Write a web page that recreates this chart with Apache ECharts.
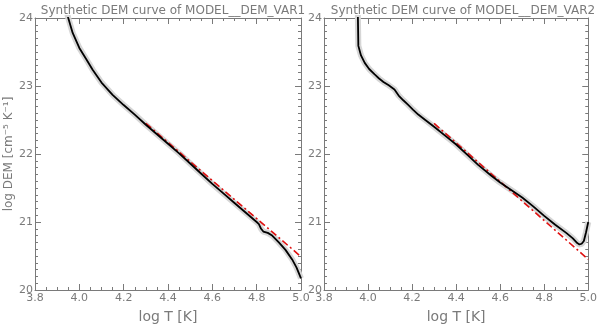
<!DOCTYPE html>
<html><head><meta charset="utf-8">
<script src="https://cdn.jsdelivr.net/npm/echarts@6/dist/echarts.min.js"></script>
<style>html,body{margin:0;padding:0;background:#fff}#c{width:600px;height:329px}</style>
</head><body><div id="c"></div>
<script>
const titles = ["Synthetic DEM curve of MODEL__DEM_VAR1", "Synthetic DEM curve of MODEL__DEM_VAR2"];
const xName = "log T [K]";
const yName = "log DEM [cm\u207B\u2075 K\u207B\u00B9]";

const logT1 = [3.94, 3.95, 3.97, 4.00, 4.03, 4.06, 4.10, 4.15, 4.20, 4.25, 4.30, 4.35, 4.40, 4.45, 4.50, 4.55, 4.60, 4.65, 4.70, 4.75, 4.80, 4.81, 4.82, 4.83, 4.85, 4.87, 4.90, 4.93, 4.96, 4.98, 5.00];
const dem1  = [24.15, 24.0, 23.78, 23.56, 23.40, 23.24, 23.05, 22.87, 22.72, 22.58, 22.43, 22.29, 22.15, 22.01, 21.86, 21.71, 21.56, 21.42, 21.28, 21.14, 21.00, 20.97, 20.90, 20.86, 20.84, 20.80, 20.70, 20.59, 20.45, 20.33, 20.17];

const logT2 = [3.953, 3.954, 3.956, 3.968, 3.985, 4.005, 4.03, 4.05, 4.07, 4.094, 4.12, 4.139, 4.16, 4.18, 4.205, 4.228, 4.26, 4.30, 4.35, 4.40, 4.45, 4.50, 4.56, 4.60, 4.65, 4.70, 4.75, 4.80, 4.85, 4.90, 4.93, 4.95, 4.96, 4.97, 4.98, 4.99, 5.00];
const dem2  = [24.4, 24.0, 23.59, 23.45, 23.34, 23.25, 23.17, 23.11, 23.06, 23.01, 22.95, 22.86, 22.79, 22.73, 22.65, 22.58, 22.50, 22.40, 22.27, 22.14, 21.99, 21.84, 21.68, 21.58, 21.47, 21.36, 21.23, 21.09, 20.96, 20.84, 20.76, 20.69, 20.67, 20.68, 20.72, 20.85, 21.00];

const fitT1 = [4.3, 5.0];
const fitD1 = [22.45, 20.49];
const fitT2 = [4.3, 5.0];
const fitD2 = [22.45, 20.45];

const xTicks = [3.8, 4.0, 4.2, 4.4, 4.6, 4.8, 5.0];
const yTicks = [20, 21, 22, 23, 24];

const pairs = (xs, ys) => xs.map((x, i) => [x, ys[i]]);
const grey = '#7a7a7a';
const font = 'DejaVu Sans';

function xAx(gi, pos, labels) {
  return {
    type: 'value', gridIndex: gi, position: pos,
    min: xTicks[0], max: xTicks[xTicks.length - 1], interval: 0.2,
    axisLine: { show: true, onZero: false, lineStyle: { color: grey, width: 1 } },
    axisTick: { show: true, inside: true, length: 6, lineStyle: { color: grey } },
    minorTick: { show: true, splitNumber: 4, length: 3, lineStyle: { color: grey } },
    splitLine: { show: false },
    axisLabel: { show: labels, color: grey, fontFamily: font, fontSize: 11, margin: 3,
      showMinLabel: true, showMaxLabel: true, formatter: v => v.toFixed(1) },
    name: labels ? xName : '', nameLocation: 'middle', nameGap: 20,
    nameTextStyle: { color: grey, fontFamily: font, fontSize: 14 }
  };
}
function yAx(gi, pos, labels, withName) {
  return {
    type: 'value', gridIndex: gi, position: pos,
    min: yTicks[0], max: yTicks[yTicks.length - 1], interval: 1,
    axisLine: { show: true, onZero: false, lineStyle: { color: grey, width: 1 } },
    axisTick: { show: true, inside: true, length: 6, lineStyle: { color: grey } },
    minorTick: { show: true, splitNumber: 10, length: 3, lineStyle: { color: grey } },
    splitLine: { show: false },
    axisLabel: { show: labels, color: grey, fontFamily: font, fontSize: 11, margin: 2 },
    name: withName ? yName : '', nameLocation: 'middle', nameGap: 17, nameRotate: 90,
    nameTextStyle: { color: grey, fontFamily: font, fontSize: 12 }
  };
}
function panel(i, xs, ys, fx, fy) {
  return [
    { type: 'line', xAxisIndex: 2 * i, yAxisIndex: 2 * i, data: pairs(xs, ys), showSymbol: false, symbol: 'none',
      lineStyle: { color: '#d6d6d6', width: 6, join: 'round' }, z: 1, animation: false, silent: true },
    { type: 'line', xAxisIndex: 2 * i, yAxisIndex: 2 * i, data: pairs(xs, ys), showSymbol: false, symbol: 'none',
      lineStyle: { color: '#000', width: 1.8 }, z: 3, animation: false },
    { type: 'line', xAxisIndex: 2 * i, yAxisIndex: 2 * i, data: pairs(fx, fy), showSymbol: false, symbol: 'none',
      lineStyle: { color: '#e01010', width: 1.6, type: [7, 3, 2, 3] }, z: 2, animation: false }
  ];
}

const chart = echarts.init(document.getElementById('c'), null, { renderer: 'canvas' });
chart.setOption({
  backgroundColor: '#fff',
  animation: false,
  title: [
    { text: titles[0], left: 168, top: 0, textAlign: 'center', textStyle: { color: grey, fontFamily: font, fontSize: 12, fontWeight: 'normal' } },
    { text: titles[1], left: 458, top: 0, textAlign: 'center', textStyle: { color: grey, fontFamily: font, fontSize: 12, fontWeight: 'normal' } }
  ],
  grid: [
    { left: 35, top: 18, width: 266, height: 279 },
    { left: 324, top: 18, width: 269, height: 279 }
  ],
  xAxis: [xAx(0, 'bottom', true), xAx(0, 'top', false), xAx(1, 'bottom', true), xAx(1, 'top', false)],
  yAxis: [yAx(0, 'left', true, true), yAx(0, 'right', false, false), yAx(1, 'left', true, false), yAx(1, 'right', false, false)],
  series: [].concat(panel(0, logT1, dem1, fitT1, fitD1), panel(1, logT2, dem2, fitT2, fitD2))
});
</script></body></html>
